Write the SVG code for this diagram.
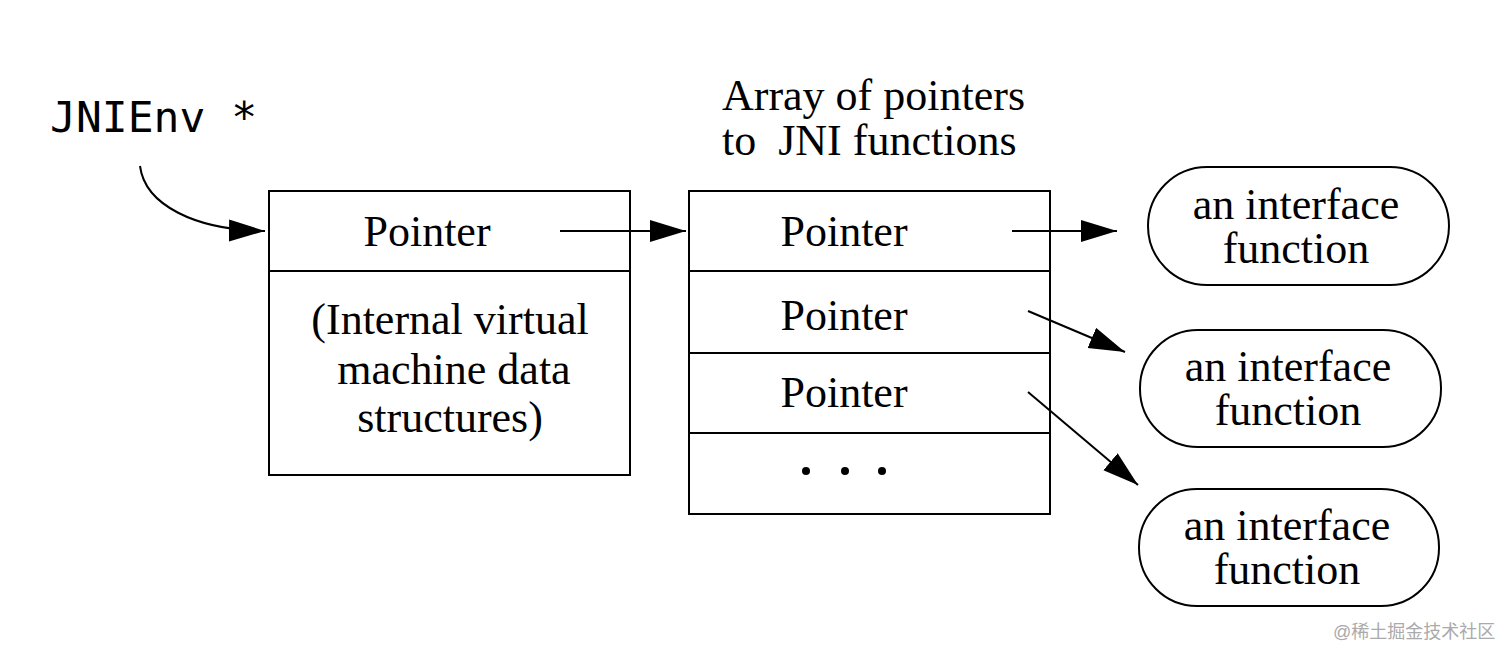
<svg xmlns="http://www.w3.org/2000/svg" width="1512" height="660" viewBox="0 0 1512 660">
<defs>
<marker id="ah" markerUnits="userSpaceOnUse" markerWidth="40" markerHeight="24" refX="36" refY="11" orient="auto">
<path d="M0,0 L36,11 L0,22 Z" fill="#000"/>
</marker>
<style>
.box{fill:#fff;stroke:#000;stroke-width:2}
.t{font-family:"Liberation Serif","Times New Roman",serif;font-size:44px;fill:#000;text-anchor:middle}
.line{fill:none;stroke:#000;stroke-width:2;marker-end:url(#ah)}
.wm{font-family:"Liberation Sans","Noto Sans CJK SC",sans-serif;font-size:18px;fill:#aaa}
</style>
</defs>
<rect width="1512" height="660" fill="#fff"/>
<g id="jnienv">
<text x="50" y="132" font-family="DejaVu Sans Mono,monospace" font-size="43" fill="#000">JNIEnv *</text>
</g>
<g id="title">
<text x="722" y="110" font-family="Liberation Serif,serif" font-size="44" fill="#000">Array of pointers</text>
<text x="722" y="155" font-family="Liberation Serif,serif" font-size="44" fill="#000" xml:space="preserve">to  JNI functions</text>
</g>
<g id="env-struct">
<rect class="box" x="269" y="191" width="361" height="284"/>
<line x1="269" y1="271" x2="630" y2="271" stroke="#000" stroke-width="2"/>
<text class="t" x="427" y="246">Pointer</text>
<text class="t" x="450" y="334">(Internal virtual</text>
<text class="t" x="454" y="384">machine data</text>
<text class="t" x="450" y="432">structures)</text>
</g>
<g id="func-table">
<rect class="box" x="689" y="191" width="361" height="323"/>
<line x1="689" y1="271" x2="1050" y2="271" stroke="#000" stroke-width="2"/>
<line x1="689" y1="353" x2="1050" y2="353" stroke="#000" stroke-width="2"/>
<line x1="689" y1="433" x2="1050" y2="433" stroke="#000" stroke-width="2"/>
<text class="t" x="844" y="246">Pointer</text>
<text class="t" x="844" y="330">Pointer</text>
<text class="t" x="844" y="407">Pointer</text>
<circle cx="806" cy="471" r="4" fill="#000"/>
<circle cx="845" cy="471" r="4" fill="#000"/>
<circle cx="882" cy="471" r="4" fill="#000"/>
</g>
<g id="func1">
<rect class="box" x="1148" y="167" width="301" height="118" rx="59" ry="59"/>
<text class="t" x="1296" y="219">an interface</text>
<text class="t" x="1296" y="263">function</text>
</g>
<g id="func2">
<rect class="box" x="1140" y="330" width="301" height="117" rx="58" ry="58"/>
<text class="t" x="1288" y="381">an interface</text>
<text class="t" x="1288" y="425">function</text>
</g>
<g id="func3">
<rect class="box" x="1139" y="489" width="300" height="117" rx="58" ry="58"/>
<text class="t" x="1287" y="540">an interface</text>
<text class="t" x="1287" y="584">function</text>
</g>
<g id="connectors">
<path class="line" d="M140,166 C145,205 195,230 265,231"/>
<path class="line" d="M560,231 L686,231"/>
<path class="line" d="M1012,231 L1117,231"/>
<path class="line" d="M1028,311 L1125,352"/>
<path class="line" d="M1028,392 L1138,485"/>
</g>
<text class="wm" x="1333" y="638">@稀土掘金技术社区</text>
</svg>
